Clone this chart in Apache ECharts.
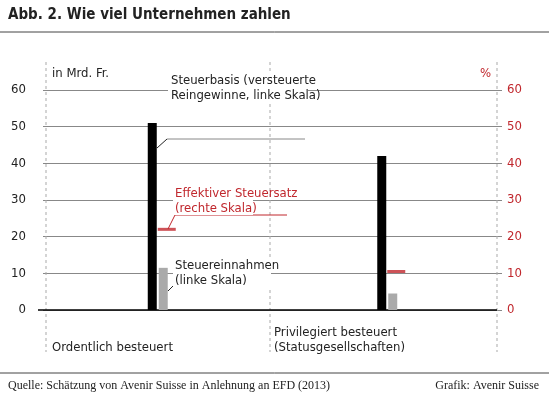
<!DOCTYPE html><html><head><meta charset="utf-8"><script src="https://cdn.jsdelivr.net/npm/echarts@6/dist/echarts.min.js"></script>
<style>body{margin:0}#c{width:549px;height:406px}</style></head><body><div id="c"></div><script>
const categories=['Ordentlich besteuert','Privilegiert besteuert'];
const steuerbasis=[51,42];
const steuereinnahmen=[11.5,4.5];
const steuersatz=[22,10.5];
const leftTicks=[0,10,20,30,40,50,60];
const F="'Liberation Sans Narrow','DejaVu Sans Condensed',sans-serif";
const red='#c0272d';
const c=echarts.init(document.getElementById('c'));
function ln(x1,y1,x2,y2,col,dash,w){return {type:'line',shape:{x1,y1,x2,y2},style:{stroke:col,lineWidth:w||1,lineDash:dash||null},z:1};}
function tx(x,y,t,col,o){return Object.assign({type:'text',x,y,style:{text:t,fill:col||'#222',font:'13px '+F,lineHeight:15},z:5},o||{});}
c.setOption({
 animation:false,
 grid:{left:43,right:47,top:90,bottom:96},
 xAxis:{type:'category',data:categories,axisLine:{show:false},axisTick:{show:false},axisLabel:{show:false}},
 yAxis:[{type:'value',min:0,max:60,interval:10,axisLine:{show:false},axisTick:{show:false},
   axisLabel:{color:'#222',fontFamily:F,fontSize:13,margin:17},splitLine:{lineStyle:{color:'#888'}}},
  {type:'value',min:0,max:60,interval:10,position:'right',axisLine:{show:false},axisTick:{show:false},
   axisLabel:{color:red,fontFamily:F,fontSize:13,margin:5},splitLine:{show:false}}],
 series:[
  {type:'bar',data:steuerbasis,barWidth:9,barGap:'22%',itemStyle:{color:'#000'},z:3},
  {type:'bar',data:steuereinnahmen,barWidth:9,itemStyle:{color:'#aaa'},z:3},
  {type:'scatter',yAxisIndex:1,data:steuersatz,symbol:'rect',symbolSize:[18,3],symbolOffset:[9,0],itemStyle:{color:red},z:4}
 ],
 graphic:[
  {type:'text',x:8,y:8,style:{text:'Abb. 2. Wie viel Unternehmen zahlen',fill:'#222',font:'bold 15px '+F},z:5},
  ln(0,32,549,32,'#444'),
  ln(46,62,46,352,'#aaa',[3,3]),ln(270,62,270,352,'#aaa',[3,3]),ln(497,62,497,352,'#aaa',[3,3]),
  ln(38,310,497,310,'#000',null,1.5),
  tx(52,66,'in Mrd. Fr.'),
  tx(480,66,'%',red),
  {type:'rect',shape:{x:168,y:72,width:140,height:30},style:{fill:'#fff'},z:4},
  tx(171,73,'Steuerbasis (versteuerte\nReingewinne, linke Skala)'),
  ln(157,148,167,139,'#222'),ln(167,139,305,139,'#888'),
  {type:'rect',shape:{x:173,y:185,width:80,height:30},style:{fill:'#fff'},z:4},
  tx(175,186,'Effektiver Steuersatz\n(rechte Skala)',red),
  ln(168,229,175,215,red),ln(175,215,287,215,red),
  {type:'rect',shape:{x:173,y:257,width:98,height:30},style:{fill:'#fff'},z:4},
  tx(175,258,'Steuereinnahmen\n(linke Skala)'),
  ln(168,291,175,284,'#222'),ln(175,284,268,284,'#222'),
  tx(52,340,'Ordentlich besteuert'),
  tx(274,325,'Privilegiert besteuert\n(Statusgesellschaften)'),
  ln(0,373,549,373,'#444'),
  {type:'text',x:8,y:380,style:{text:'Quelle: Schätzung von Avenir Suisse in Anlehnung an EFD (2013)',fill:'#222',font:'12px "Liberation Serif",serif'}},
  {type:'text',right:10,y:380,style:{text:'Grafik: Avenir Suisse',fill:'#222',font:'12px "Liberation Serif",serif'}}
 ]
});
</script></body></html>
